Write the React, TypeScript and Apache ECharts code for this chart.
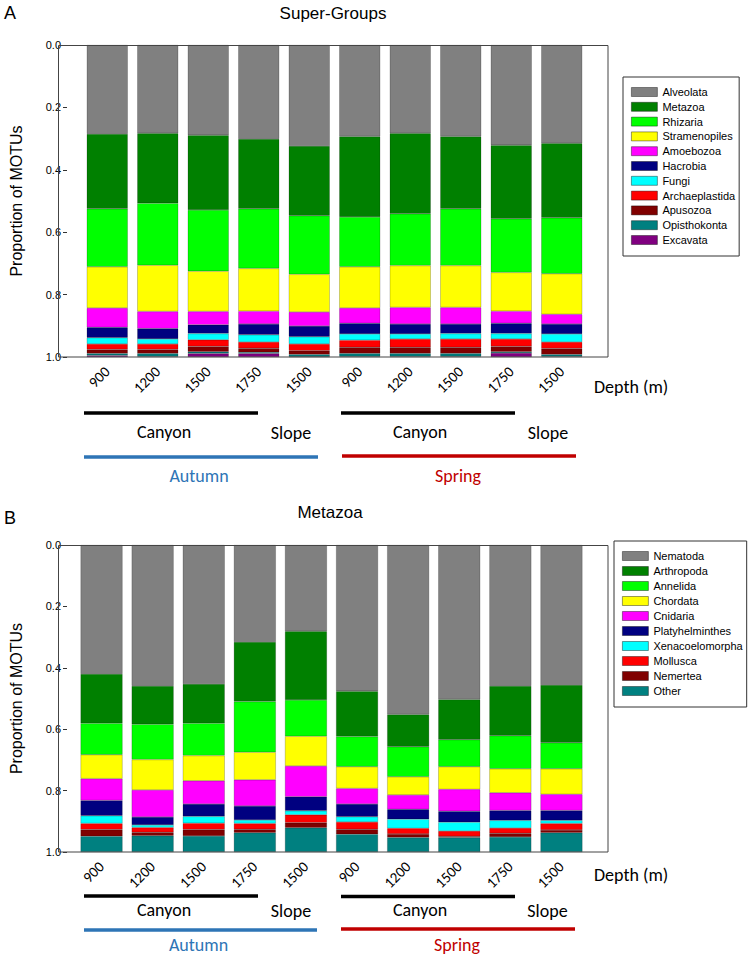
import React, { useEffect, useRef } from 'react';
import * as echarts from 'echarts';

// ---------- data ----------
const depths = ['900', '1200', '1500', '1750', '1500', '900', '1200', '1500', '1750', '1500'];

// Panel A: Super-Groups (proportion of MOTUs)
const sgNames = ['Alveolata', 'Metazoa', 'Rhizaria', 'Stramenopiles', 'Amoebozoa', 'Hacrobia', 'Fungi', 'Archaeplastida', 'Apusozoa', 'Opisthokonta', 'Excavata'];
const sgColors = ['#808080', '#008000', '#00FF00', '#FFFF00', '#FF00FF', '#000080', '#00FFFF', '#FF0000', '#800000', '#008080', '#800080'];
const alveolata = [0.285, 0.283, 0.289, 0.301, 0.324, 0.293, 0.283, 0.293, 0.321, 0.315];
const metazoa = [0.240, 0.224, 0.240, 0.224, 0.223, 0.258, 0.258, 0.232, 0.236, 0.239];
const rhizaria = [0.186, 0.199, 0.196, 0.191, 0.188, 0.160, 0.166, 0.182, 0.172, 0.179];
const stramenopiles = [0.132, 0.148, 0.129, 0.137, 0.121, 0.132, 0.134, 0.134, 0.124, 0.130];
const amoebozoa = [0.062, 0.055, 0.043, 0.041, 0.045, 0.049, 0.053, 0.053, 0.039, 0.031];
const hacrobia = [0.033, 0.033, 0.028, 0.035, 0.034, 0.034, 0.032, 0.031, 0.033, 0.032];
const fungi = [0.020, 0.016, 0.020, 0.023, 0.023, 0.020, 0.016, 0.017, 0.017, 0.026];
const archaeplastida = [0.018, 0.018, 0.021, 0.020, 0.022, 0.023, 0.027, 0.027, 0.024, 0.021];
const apusozoa = [0.013, 0.013, 0.017, 0.013, 0.012, 0.020, 0.020, 0.020, 0.017, 0.019];
const opisthokonta = [0.006, 0.009, 0.006, 0.004, 0.007, 0.009, 0.009, 0.009, 0.004, 0.006];
const excavata = [0.005, 0.002, 0.011, 0.011, 0.001, 0.002, 0.002, 0.002, 0.013, 0.002];
const sgValues = [alveolata, metazoa, rhizaria, stramenopiles, amoebozoa, hacrobia, fungi, archaeplastida, apusozoa, opisthokonta, excavata];

// Panel B: Metazoa
const mzNames = ['Nematoda', 'Arthropoda', 'Annelida', 'Chordata', 'Cnidaria', 'Platyhelminthes', 'Xenacoelomorpha', 'Mollusca', 'Nemertea', 'Other'];
const mzColors = ['#808080', '#008000', '#00FF00', '#FFFF00', '#FF00FF', '#000080', '#00FFFF', '#FF0000', '#800000', '#008080'];
const nematoda = [0.420, 0.459, 0.453, 0.316, 0.281, 0.476, 0.552, 0.503, 0.459, 0.456];
const arthropoda = [0.161, 0.125, 0.128, 0.194, 0.224, 0.148, 0.105, 0.131, 0.162, 0.188];
const annelida = [0.102, 0.115, 0.105, 0.165, 0.118, 0.098, 0.098, 0.088, 0.108, 0.085];
const chordata = [0.078, 0.099, 0.082, 0.090, 0.097, 0.071, 0.059, 0.074, 0.078, 0.083];
const cnidaria = [0.071, 0.088, 0.076, 0.085, 0.100, 0.051, 0.047, 0.071, 0.058, 0.053];
const platyhelminthes = [0.050, 0.026, 0.040, 0.046, 0.046, 0.041, 0.032, 0.036, 0.032, 0.032];
const xenacoelomorpha = [0.025, 0.008, 0.022, 0.011, 0.013, 0.017, 0.030, 0.029, 0.025, 0.010];
const mollusca = [0.020, 0.016, 0.021, 0.019, 0.026, 0.024, 0.018, 0.017, 0.017, 0.021];
const nemertea = [0.022, 0.011, 0.021, 0.011, 0.016, 0.016, 0.012, 0.004, 0.012, 0.009];
const other = [0.051, 0.053, 0.052, 0.063, 0.079, 0.058, 0.047, 0.047, 0.049, 0.063];
const mzValues = [nematoda, arthropoda, annelida, chordata, cnidaria, platyhelminthes, xenacoelomorpha, mollusca, nemertea, other];

const ARIAL = '"Liberation Sans", Arial, sans-serif';
const CALIBRI = 'Carlito, Lato, sans-serif';

function buildOption() {
  const grids = [
    { left: 73, top: 45, width: 514, height: 312 },
    { left: 67, top: 545, width: 520, height: 307 },
  ];
  const offsets = [15, 9];
  const barWidths = [41, 42];

  const xAxis = [0, 1].map((i) => ({
    type: 'category',
    gridIndex: i,
    data: depths,
    axisLine: { show: false },
    axisTick: { show: true, alignWithLabel: true, length: 4, lineStyle: { color: '#333' } },
    axisLabel: { rotate: 45, interval: 0, fontSize: 15, fontFamily: CALIBRI, color: '#000', margin: 12 },
    splitLine: { show: false },
  }));

  const yAxis = [0, 1].map((i) => ({
    type: 'value',
    gridIndex: i,
    inverse: true,
    min: 0,
    max: 1,
    interval: 0.2,
    offset: offsets[i],
    axisLine: { show: false },
    axisTick: { show: true, length: 4, lineStyle: { color: '#333' } },
    axisLabel: { formatter: (v: number) => v.toFixed(1), fontSize: 11, fontFamily: ARIAL, color: '#000', margin: 6 },
    splitLine: { show: false },
    name: 'Proportion of MOTUs',
    nameLocation: 'middle',
    nameGap: 43,
    nameTextStyle: { fontSize: 16, fontFamily: ARIAL, color: '#000' },
  }));

  const border = { borderColor: 'rgba(0,0,0,0.4)', borderWidth: 0.5 };
  const series: any[] = [];
  sgNames.forEach((n, k) => {
    series.push({
      type: 'bar', name: n, stack: 'A', xAxisIndex: 0, yAxisIndex: 0, barWidth: barWidths[0],
      data: sgValues[k], itemStyle: { color: sgColors[k], ...border }, emphasis: { disabled: true },
    });
  });
  mzNames.forEach((n, k) => {
    series.push({
      type: 'bar', name: n, stack: 'B', xAxisIndex: 1, yAxisIndex: 1, barWidth: barWidths[1],
      data: mzValues[k], itemStyle: { color: mzColors[k], ...border }, emphasis: { disabled: true },
    });
  });

  const legendBase = {
    orient: 'vertical',
    borderColor: '#333',
    borderWidth: 1,
    itemWidth: 26,
    itemHeight: 9,
    icon: 'rect',
    selectedMode: false,
    itemStyle: { borderColor: 'rgba(0,0,0,0.5)', borderWidth: 0.8 },
    textStyle: { fontSize: 11, lineHeight: 12, fontFamily: ARIAL, color: '#000' },
  };
  const legend = [
    { ...legendBase, data: sgNames, left: 623, top: 77, padding: [9, 4, 10, 8], itemGap: 2.8 },
    { ...legendBase, data: mzNames, left: 614, top: 541, padding: [9, 4, 10, 8], itemGap: 3 },
  ];

  const txt = (text: string, x: number, y: number, size: number, family: string, fill = '#000', align = 'center') => ({
    type: 'text', x, y, silent: true,
    style: { text, fontSize: size, fontFamily: family, fill, align, verticalAlign: 'middle' },
  });
  const line = (x1: number, y1: number, x2: number, y2: number, stroke: string, w: number) => ({
    type: 'line', silent: true, shape: { x1, y1, x2, y2 }, style: { stroke, lineWidth: w },
  });
  const frame = (x: number, y: number, w: number, h: number) => ({
    type: 'rect', silent: true, z: 100, shape: { x, y, width: w, height: h },
    style: { fill: 'none', stroke: '#444', lineWidth: 1 },
  });

  const blue = '#2E75B6';
  const red = '#C00000';
  const graphic = [
    frame(58.5, 45.5, 549.5, 311.5),
    frame(58.5, 545.5, 549.5, 306.5),
    txt('A', 4, 13, 18, ARIAL, '#000', 'left'),
    txt('B', 4, 518, 18, ARIAL, '#000', 'left'),
    txt('Super-Groups', 333, 13, 17, ARIAL),
    txt('Metazoa', 330, 512, 17, ARIAL),
    // panel A annotations
    txt('Depth (m)', 594, 387, 18, CALIBRI, '#000', 'left'),
    line(84, 413, 258, 413, '#000', 3.5),
    line(341, 413, 515, 413, '#000', 3.5),
    txt('Canyon', 164, 432, 18, CALIBRI),
    txt('Slope', 291, 433, 18, CALIBRI),
    txt('Canyon', 420, 432, 18, CALIBRI),
    txt('Slope', 548, 433, 18, CALIBRI),
    line(84, 457, 318, 457, blue, 3.5),
    line(342, 456, 576, 456, red, 3.5),
    txt('Autumn', 199, 476, 18, CALIBRI, blue),
    txt('Spring', 458, 476, 18, CALIBRI, red),
    // panel B annotations
    txt('Depth (m)', 594, 875, 18, CALIBRI, '#000', 'left'),
    line(84, 896, 258, 896, '#000', 3.5),
    line(341, 896.5, 515, 896.5, '#000', 3.5),
    txt('Canyon', 164, 910, 18, CALIBRI),
    txt('Slope', 291, 910.5, 18, CALIBRI),
    txt('Canyon', 420, 910, 18, CALIBRI),
    txt('Slope', 547.5, 910.5, 18, CALIBRI),
    line(84, 930, 317, 930, blue, 3.5),
    line(341, 929, 575, 929, red, 3.5),
    txt('Autumn', 198.5, 945, 18, CALIBRI, blue),
    txt('Spring', 457, 945, 18, CALIBRI, red),
  ];

  return {
    animation: false,
    backgroundColor: '#fff',
    grid: grids,
    xAxis,
    yAxis,
    legend,
    series,
    graphic,
  };
}

export default function App() {
  const ref = useRef<HTMLDivElement>(null);
  useEffect(() => {
    document.body.style.margin = '0';
    const chart = echarts.init(ref.current!, null, { renderer: 'svg' });
    chart.setOption(buildOption() as any);
    return () => chart.dispose();
  }, []);
  return <div ref={ref} style={{ width: 756, height: 957, background: '#fff' }} />;
}
